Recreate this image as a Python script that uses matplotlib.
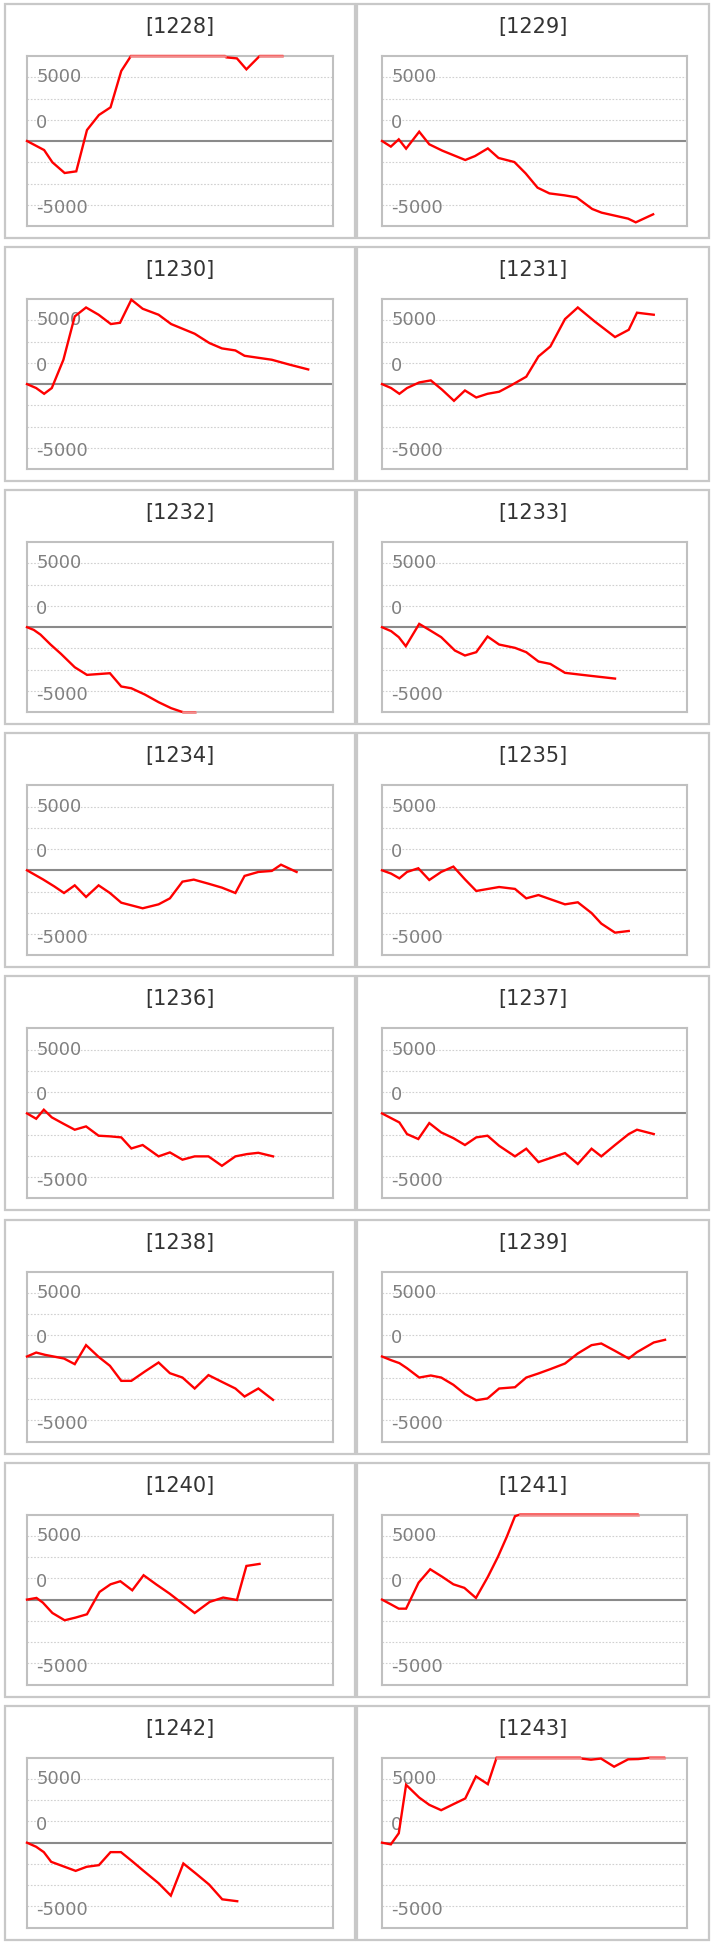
# coding:utf-8
import numpy as np
import matplotlib
matplotlib.use('Agg')
import matplotlib.pyplot as plt
from matplotlib.patches import Rectangle

# 台番号
titles = ['1228', '1229', '1230', '1231', '1232', '1233', '1234', '1235',
          '1236', '1237', '1238', '1239', '1240', '1241', '1242', '1243']

# x: ゲーム数(横軸の%) y: 差枚
x_1228 = [0, 5.6, 8.3, 12.3, 16.1, 19.6, 23.5, 27.3, 30.8, 34.6, 40.1, 51.0, 60.8, 65.1, 68.6, 71.7, 75.8, 79.3, 83.4]
y_1228 = [0, -710, -1670, -2510, -2380, 860, 2040, 2640, 5490, 6900, 7800, 8200, 7600, 6560, 6480, 5620, 6610, 7300, 7600]

x_1229 = [0, 2.9, 5.5, 7.9, 12.2, 15.5, 19.8, 27.3, 30.5, 34.7, 38.2, 43.4, 47.1, 51.0, 54.9, 59.8, 63.8, 68.9, 72.0, 80.7, 83.2, 88.9]
y_1229 = [0, -440, 130, -600, 730, -260, -760, -1490, -1180, -580, -1330, -1650, -2540, -3660, -4110, -4260, -4420, -5330, -5620, -6090, -6380, -5750]

x_1230 = [0, 3.0, 5.6, 8.1, 11.9, 15.6, 19.3, 23.4, 27.4, 30.4, 34.1, 37.8, 43.0, 47.1, 54.8, 59.6, 63.7, 68.1, 71.1, 80.0, 85.9, 91.9]
y_1230 = [0, -310, -760, -310, 1910, 5310, 6010, 5440, 4710, 4810, 6620, 5910, 5440, 4710, 3950, 3220, 2800, 2640, 2220, 1910, 1520, 1150]

x_1231 = [0, 3.0, 5.7, 8.2, 12.2, 16.0, 19.7, 23.6, 27.2, 30.9, 34.6, 38.4, 42.1, 47.3, 51.3, 55.2, 60.0, 64.2, 69.7, 76.4, 80.9, 83.6, 89.1]
y_1231 = [0, -310, -760, -310, 130, 290, -440, -1310, -500, -1050, -760, -600, -130, 580, 2170, 2950, 5100, 6010, 4920, 3690, 4260, 5600, 5440]

x_1232 = [0, 2.2, 4.4, 7.7, 11.1, 15.6, 19.6, 27.1, 30.8, 34.1, 38.5, 43.0, 47.1, 50.4, 54.8]
y_1232 = [0, -210, -580, -1360, -2090, -3140, -3740, -3610, -4650, -4790, -5280, -5880, -6350, -6620, -6900]

x_1233 = [0, 3.0, 5.5, 7.8, 12.2, 15.5, 19.4, 23.9, 27.2, 30.9, 34.6, 38.4, 43.6, 47.3, 51.3, 55.2, 60.0, 67.5, 76.4]
y_1233 = [0, -310, -780, -1490, 260, -210, -780, -1830, -2220, -1960, -730, -1360, -1620, -1960, -2690, -2880, -3580, -3790, -4030]

x_1234 = [0, 5.2, 8.9, 12.1, 15.6, 19.3, 23.4, 27.1, 30.8, 37.8, 43.0, 46.7, 50.8, 54.5, 59.3, 63.7, 68.1, 71.1, 75.6, 80.0, 83.0, 88.1]
y_1234 = [0, -710, -1260, -1780, -1180, -2090, -1180, -1780, -2540, -2980, -2670, -2200, -890, -730, -1050, -1360, -1780, -440, -130, -50, 440, -130]

x_1235 = [0, 3.0, 5.7, 8.2, 11.9, 15.5, 19.4, 23.4, 27.2, 30.9, 38.4, 43.6, 47.3, 51.3, 60.0, 64.2, 68.7, 71.9, 76.4, 80.9]
y_1235 = [0, -260, -630, -130, 160, -760, -130, 290, -710, -1620, -1310, -1460, -2200, -1940, -2670, -2510, -3350, -4180, -4890, -4760]

x_1236 = [0, 3.0, 5.5, 8.1, 11.9, 15.6, 19.3, 23.4, 27.1, 30.8, 34.1, 37.8, 43.0, 46.7, 50.8, 54.8, 59.3, 63.7, 68.1, 71.9, 75.6, 80.4]
y_1236 = [0, -420, 290, -310, -810, -1280, -1020, -1750, -1800, -1880, -2750, -2480, -3370, -3060, -3630, -3370, -3370, -4110, -3370, -3190, -3090, -3370]

x_1237 = [0, 5.7, 8.2, 11.9, 15.5, 19.4, 23.4, 27.2, 30.9, 34.6, 38.4, 43.6, 47.3, 51.3, 60.0, 64.2, 68.7, 71.9, 76.4, 80.9, 83.6, 89.1]
y_1237 = [0, -710, -1620, -2010, -760, -1490, -1940, -2480, -1880, -1750, -2540, -3370, -2770, -3820, -3110, -3970, -2770, -3370, -2480, -1620, -1280, -1620]

x_1238 = [0, 3.0, 5.9, 12.1, 15.6, 19.3, 23.4, 27.1, 30.8, 34.1, 38.5, 43.0, 46.7, 50.8, 54.8, 59.3, 63.7, 68.1, 71.1, 75.6, 80.4]
y_1238 = [0, 310, 130, -160, -600, 890, -30, -730, -1910, -1910, -1180, -470, -1310, -1650, -2510, -1460, -1990, -2510, -3140, -2510, -3400]

x_1239 = [0, 3.0, 5.7, 8.2, 12.2, 16.0, 19.4, 23.4, 27.2, 30.9, 34.6, 38.4, 43.6, 47.3, 51.3, 55.2, 60.0, 64.2, 68.7, 71.9, 76.4, 80.9, 83.6, 89.1, 92.8]
y_1239 = [0, -290, -520, -920, -1650, -1490, -1650, -2220, -2950, -3430, -3290, -2510, -2410, -1650, -1330, -990, -550, 240, 890, 1020, 440, -160, 340, 1100, 1310]

x_1240 = [0, 3.1, 5.2, 8.3, 12.3, 15.9, 19.6, 23.7, 27.3, 30.5, 34.4, 38.1, 42.3, 46.6, 50.8, 54.8, 59.7, 64.1, 68.6, 71.7, 76.0]
y_1240 = [0, 130, -240, -1050, -1620, -1410, -1150, 600, 1200, 1440, 730, 1910, 1180, 470, -310, -1050, -180, 160, -30, 2640, 2800]

x_1241 = [0, 2.9, 5.5, 7.9, 12.0, 15.8, 19.8, 23.4, 27.0, 30.8, 34.7, 38.0, 40.9, 43.6, 46.9, 56.7, 67.6, 78.5, 83.8]
y_1241 = [0, -370, -710, -710, 1330, 2380, 1780, 1200, 920, 130, 1780, 3350, 4920, 6540, 6800, 7500, 7800, 7600, 7400]

x_1242 = [0, 3.0, 5.5, 7.9, 15.9, 19.5, 23.5, 27.3, 30.7, 34.3, 37.8, 43.0, 47.0, 51.1, 55.2, 59.5, 63.8, 68.7]
y_1242 = [0, -320, -740, -1500, -2210, -1890, -1760, -740, -740, -1440, -2150, -3180, -4150, -1630, -2420, -3280, -4440, -4590]

x_1243 = [0, 2.9, 5.5, 7.9, 12.2, 15.5, 19.4, 23.4, 27.3, 30.8, 34.7, 37.9, 45.8, 56.7, 63.2, 65.4, 68.5, 71.8, 76.1, 80.7, 84.0, 88.3, 92.5]
y_1243 = [0, -130, 740, 4540, 3540, 2970, 2550, 3020, 3470, 5200, 4590, 6900, 7600, 7800, 7000, 6600, 6510, 6600, 5960, 6540, 6560, 6680, 7000]

series = [(x_1228, y_1228), (x_1229, y_1229), (x_1230, y_1230), (x_1231, y_1231),
          (x_1232, y_1232), (x_1233, y_1233), (x_1234, y_1234), (x_1235, y_1235),
          (x_1236, y_1236), (x_1237, y_1237), (x_1238, y_1238), (x_1239, y_1239),
          (x_1240, y_1240), (x_1241, y_1241), (x_1242, y_1242), (x_1243, y_1243)]

step = 5000 / 3.0
ymax = 4 * step
ymin = -ymax

W, H = 714.0, 1947.0


# 上下にはみ出した所を枠の線に沿わせる
def clip_line(x, y, lo, hi):
    xs = [x[0]]
    ys = [y[0]]
    for i in range(1, len(x)):
        x0, y0, x1, y1 = x[i - 1], y[i - 1], x[i], y[i]
        cross = []
        for b in (hi, lo):
            if (y0 - b) * (y1 - b) < 0:
                t = (b - y0) / float(y1 - y0)
                cross.append((t, b))
        for t, b in sorted(cross):
            xs.append(x0 + t * (x1 - x0))
            ys.append(b)
        xs.append(x1)
        ys.append(y1)
    xs = np.array(xs)
    ys = np.clip(np.array(ys, dtype=float), lo, hi)
    return xs, ys


fig = plt.figure(figsize=(W / 100, H / 100), dpi=100)
fig.patch.set_facecolor('white')

for n in range(len(titles)):
    r = n // 2
    c = n % 2
    top = 4 + r * 243.1
    if c == 0:
        bx0, bx1 = 5, 355
        px0, px1 = 27, 333
    else:
        bx0, bx1 = 357, 709
        px0, px1 = 382, 687

    # 外枠
    box = Rectangle((bx0 / W, 1 - (top + 234) / H), (bx1 - bx0) / W, 234 / H,
                    transform=fig.transFigure, facecolor='white',
                    edgecolor='#c8c8c8', linewidth=1.6, zorder=0)
    fig.add_artist(box)

    fig.text((bx0 + bx1) / 2.0 / W, 1 - (top + 23) / H, '[' + titles[n] + ']',
             ha='center', va='center', fontsize=15, color='#333333')

    ax = fig.add_axes([px0 / W, 1 - (top + 222) / H, (px1 - px0) / W, 170 / H])
    ax.set_xlim(0, 100)
    ax.set_ylim(ymin, ymax)
    ax.set_xticks([])
    ax.set_yticks([])
    for s in ax.spines.values():
        s.set_color('#c0c0c0')
        s.set_linewidth(1.5)

    for k in (-3, -2, -1, 1, 2, 3):
        ax.axhline(k * step, color='#d0d0d0', lw=0.8, linestyle=(0, (1.5, 1.5)), zorder=1)
    ax.axhline(0, color='#8a8a8a', lw=1.5, zorder=1)

    # 目盛りの文字(枠の中に描く)
    for lab, fy in (('5000', 0.875), ('0', 0.606), ('-5000', 0.104)):
        ax.text(0.03, fy, lab, transform=ax.transAxes, ha='left', va='center',
                fontsize=13, color='#808080', zorder=2)

    x, y = series[n]
    xs, ys = clip_line(x, y, ymin, ymax)
    ax.plot(xs, ys, color='#ff0000', lw=1.7, clip_on=False, zorder=3,
            solid_joinstyle='miter')
    edge = np.where((ys >= ymax) | (ys <= ymin), ys, np.nan)
    ax.plot(xs, edge, color='#f08c8c', lw=1.8, clip_on=False, zorder=4)

fig.savefig('out.png', dpi=100, facecolor='white')
